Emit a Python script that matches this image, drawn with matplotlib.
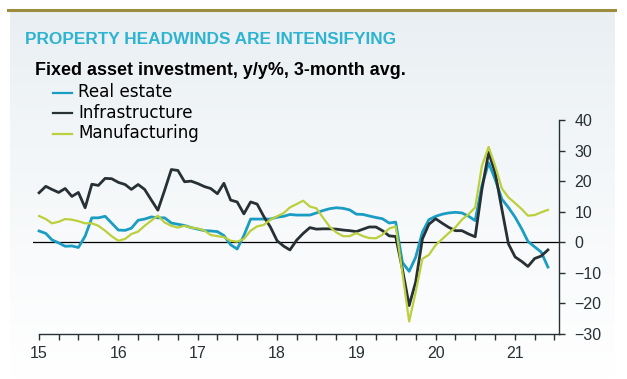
import numpy as np
import pandas as pd
import matplotlib
matplotlib.use("Agg")
import matplotlib.pyplot as plt
import matplotlib.dates as mdates

plt.rcParams['font.family'] = ['Liberation Sans', 'DejaVu Sans']

# monthly, Jan 2015 - Jun 2021, y/y %, 3-month avg.
dates = pd.date_range("2015-01-01", periods=78, freq="MS")

real_estate = [
    3.7, 2.9, 0.8, -0.2, -1.3, -1.2, -1.7, 2.0, 8.0, 8.0, 8.5, 6.3,
    4.0, 3.9, 4.6, 7.2, 7.6, 8.3, 8.0, 8.0, 6.3, 5.9, 5.5, 4.8,
    4.3, 3.8, 3.7, 3.5, 2.2, -0.8, -2.2, 2.2, 7.6, 7.6, 7.6, 7.6,
    8.2, 8.5, 9.1, 8.9, 8.9, 8.9, 9.6, 10.4, 11.0, 11.3, 11.1, 10.6,
    9.2, 9.1, 8.6, 8.1, 7.7, 6.3, 6.6, -6.6, -9.5, -4.9, 3.3, 7.4,
    8.5, 9.2, 9.6, 9.8, 9.6, 8.5, 7.1, 18.5, 26.0, 20.6, 14.1, 11.4,
    8.2, 4.3, 0.3, -1.5, -3.2, -8.1,
]
infrastructure = [
    16.2, 18.3, 17.3, 16.3, 17.6, 15.0, 16.3, 11.3, 19.0, 18.6, 20.9, 20.8,
    19.6, 18.9, 17.3, 18.9, 17.3, 13.8, 10.5, 17.0, 23.8, 23.5, 19.8, 20.0,
    19.2, 18.2, 17.6, 15.9, 19.3, 13.8, 13.2, 9.3, 13.2, 12.5, 8.4, 5.0,
    0.5, -1.3, -2.5, 0.7, 2.9, 4.8, 4.3, 4.4, 4.4, 4.3, 4.0, 3.8,
    3.5, 4.3, 5.0, 5.0, 3.8, 2.1, 1.9, -8.8, -20.7, -13.0, 1.1, 5.9,
    7.7, 6.2, 4.9, 3.8, 3.8, 2.7, 1.8, 17.3, 29.4, 22.8, 10.8, -0.5,
    -4.8, -6.3, -7.9, -5.3, -4.5, -2.5,
]
manufacturing = [
    8.6, 7.6, 6.2, 6.7, 7.6, 7.4, 6.9, 6.2, 6.2, 5.4, 3.8, 2.0,
    0.5, 1.1, 2.7, 3.5, 5.4, 7.1, 8.7, 6.5, 5.4, 4.8, 5.4, 4.8,
    4.5, 3.8, 2.4, 2.0, 1.7, 0.5, 0.2, 1.1, 3.8, 5.2, 5.7, 7.4,
    8.5, 9.6, 11.4, 12.5, 13.6, 11.7, 11.1, 8.0, 5.0, 3.2, 2.0, 2.0,
    3.0, 2.0, 1.4, 1.3, 2.5, 4.5, 5.2, -10.0, -25.9, -16.3, -5.4, -4.1,
    -0.9, 1.1, 3.0, 4.9, 7.4, 9.2, 11.4, 25.0, 31.2, 25.0, 17.6, 14.7,
    12.8, 10.8, 8.7, 8.9, 9.8, 10.6,
]

series = ["Real estate", "Infrastructure", "Manufacturing"]
colors = ["#1b9cc2", "#263035", "#bccf3c"]
yticks = [-30, -20, -10, 0, 10, 20, 30, 40]

fig = plt.figure(figsize=(6.27, 3.79), dpi=100)

# panel background with soft vertical gradient
bg = fig.add_axes([10 / 627, 0, 605 / 627, 1 - 11 / 379], zorder=-5)
grad = np.linspace(0, 1, 256).reshape(-1, 1)
top = np.array([0.91, 0.935, 0.95])
bot = np.array([1.0, 1.0, 1.0])
img = top + (bot - top) * grad[..., None] ** 0.8
bg.imshow(img, aspect="auto", extent=[0, 1, 0, 1])
bg.axis("off")
fig.add_artist(plt.Line2D([8 / 627, 615 / 627], [1 - 10 / 379] * 2,
                          color="#9a8d3e", lw=2.2))

ax = fig.add_axes([33 / 627, 45 / 379, 526 / 627, 214 / 379])
ax.set_facecolor("none")

for name, vals, c, lw in zip(series, [real_estate, infrastructure, manufacturing],
                             colors, [2.0, 2.0, 1.6]):
    ax.plot(dates, vals, color=c, lw=lw, label=name)

ax.axhline(0, color="black", lw=0.9, zorder=1)

ax.set_xlim(pd.Timestamp("2014-12-04"), pd.Timestamp("2021-07-22"))
ax.set_ylim(-30, 40)
ax.set_yticks(yticks)
ax.yaxis.tick_right()
ax.xaxis.set_major_locator(mdates.YearLocator())
ax.xaxis.set_minor_locator(mdates.MonthLocator(bymonth=[4, 7, 10]))
ax.xaxis.set_major_formatter(mdates.DateFormatter("%y"))

for s in ["top", "left"]:
    ax.spines[s].set_visible(False)
ax.spines["bottom"].set_bounds(mdates.date2num(pd.Timestamp("2015-01-01")),
                               ax.get_xlim()[1])
for s in ["bottom", "right"]:
    ax.spines[s].set_color("#263035")
    ax.spines[s].set_linewidth(1.0)

ax.tick_params(axis="both", which="both", direction="out", length=4,
               width=1.0, color="#263035", labelcolor="#263035", labelsize=11.5)
ax.tick_params(axis="y", pad=7)
ax.tick_params(axis="x", pad=5)

# header text
fig.text(25 / 627, 1 - 44 / 379, "PROPERTY HEADWINDS ARE INTENSIFYING",
         color="#2eb3d1", fontsize=12.4, fontweight="bold", va="baseline")
fig.text(35 / 627, 1 - 75 / 379, "Fixed asset investment, y/y%, 3-month avg.",
         color="black", fontsize=12.9, fontweight="bold", va="baseline")
for i, (name, c) in enumerate(zip(series, colors)):
    yb = 97 + i * 20.5
    fig.add_artist(plt.Line2D([53 / 627, 72 / 627], [1 - (yb - 4.3) / 379] * 2,
                              color=c, lw=1.6))
    fig.text(78 / 627, 1 - yb / 379, name, color="black", fontsize=12.1,
             family="DejaVu Sans", va="baseline")

fig.savefig("out.png", dpi=100)
